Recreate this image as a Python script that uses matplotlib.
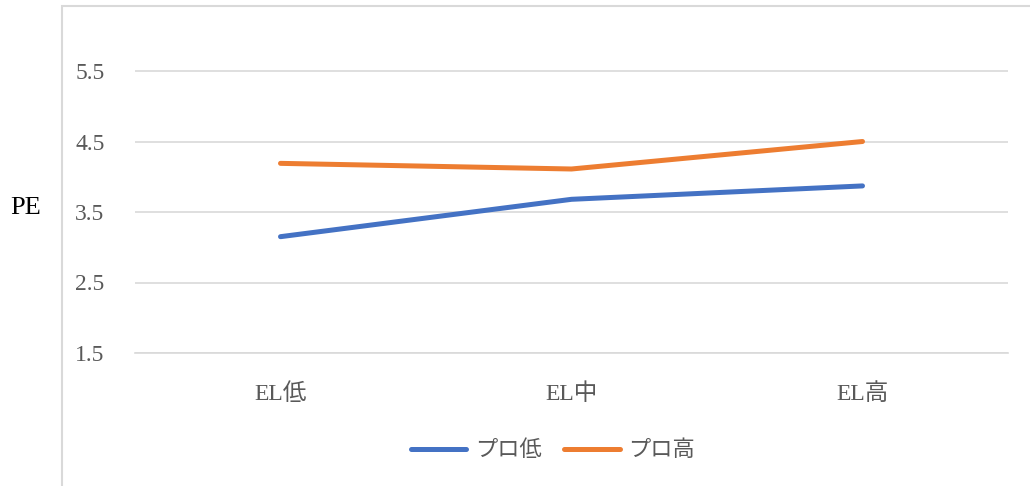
import matplotlib.pyplot as plt
from matplotlib.patches import Rectangle

categories = ['EL低', 'EL中', 'EL高']
pro_low = [3.15, 3.68, 3.87]
pro_high = [4.19, 4.11, 4.50]
series_names = ['プロ低', 'プロ高']
yticks = [1.5, 2.5, 3.5, 4.5, 5.5]

fam = ['Liberation Serif', 'Noto Sans CJK JP']
plt.rcParams['font.family'] = fam

fig = plt.figure(figsize=(10.3, 4.86), dpi=100)

# chart area border (cropped at right and bottom)
fig.patches.append(Rectangle((62 / 1030, -0.1), 1.0, 1 - 6 / 486 + 0.1,
                             transform=fig.transFigure, fill=False,
                             edgecolor='#d9d9d9', linewidth=1.5))

ax = fig.add_axes([135 / 1030, 1 - 353 / 486, (1008 - 135) / 1030, (353 - 35.75) / 486])

x = range(len(categories))
l1, = ax.plot(x, pro_low, color='#4472C4', linewidth=3.6, solid_capstyle='round')
l2, = ax.plot(x, pro_high, color='#ED7D31', linewidth=3.6, solid_capstyle='round')

ax.set_xlim(-0.5, 2.5)
ax.set_ylim(1.5, 6.0)
ax.set_yticks(yticks)
ax.set_yticklabels([str(v) for v in yticks])
ax.set_xticks(list(x))
ax.set_xticklabels(categories)
ax.grid(axis='y', color='#d9d9d9', linewidth=1.2)
ax.set_axisbelow(True)
for s in ax.spines.values():
    s.set_visible(False)
ax.spines['bottom'].set_visible(True)
ax.spines['bottom'].set_color('#d9d9d9')
ax.spines['bottom'].set_linewidth(1.2)
ax.tick_params(axis='both', length=0, colors='#595959', labelsize=17)
ax.tick_params(axis='y', pad=22)
ax.tick_params(axis='x', pad=22)

fig.text(10 / 1030, 1 - 208 / 486, 'PE', fontsize=19, color='black', va='center', ha='left')

leg = fig.legend([l1, l2], series_names, loc='center', bbox_to_anchor=(553 / 1030, 1 - 451 / 486),
                 ncol=2, frameon=False, fontsize=16, handlelength=2.5, handletextpad=0.4,
                 columnspacing=1.0, labelcolor='#595959')

fig.savefig('out.png', dpi=100)
